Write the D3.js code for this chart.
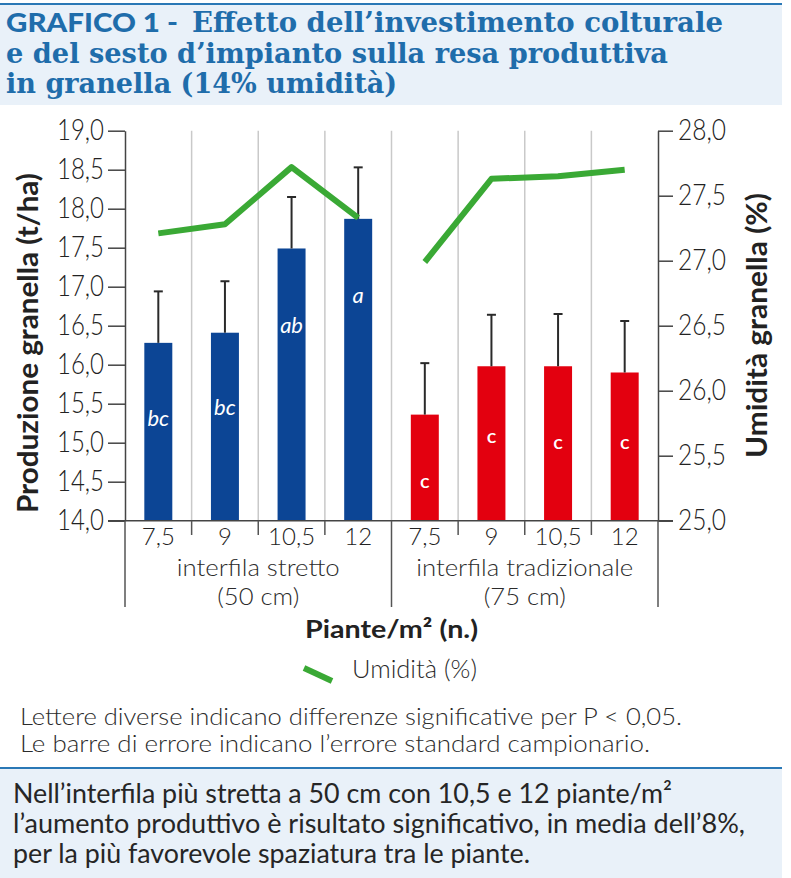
<!DOCTYPE html>
<html><head><meta charset="utf-8">
<script src="https://cdn.jsdelivr.net/npm/d3@7"></script>
<style>body{margin:0;background:#fff}svg{display:block}</style>
</head><body>
<svg id="c" width="791" height="878"></svg>
<script>
// ---------------- DATA ----------------
const categories = ["7,5", "9", "10,5", "12", "7,5", "9", "10,5", "12"];
const groupOf = [0, 0, 0, 0, 1, 1, 1, 1];
const groupLine1 = ["interfila stretto", "interfila tradizionale"];
const groupLine2 = ["(50 cm)", "(75 cm)"];
const yieldValues = [16.28, 16.41, 17.49, 17.87, 15.36, 15.98, 15.98, 15.90];
const yieldSE = [0.66, 0.66, 0.66, 0.66, 0.66, 0.66, 0.67, 0.66];
const moisture = [27.21, 27.28, 27.72, 27.33, 26.99, 27.63, 27.65, 27.70];
const letters = ["bc", "bc", "ab", "a", "c", "c", "c", "c"];
const letterAt = [15.21, 15.36, 16.41, 16.79, 14.42, 15.00, 14.92, 14.92];
const leftTicks = [14.0, 14.5, 15.0, 15.5, 16.0, 16.5, 17.0, 17.5, 18.0, 18.5, 19.0];
const rightTicks = [25.0, 25.5, 26.0, 26.5, 27.0, 27.5, 28.0];
const titleLines = ["Effetto dell\u2019investimento colturale", "e del sesto d\u2019impianto sulla resa produttiva", "in granella (14% umidit\u00e0)"];
const titleLead = "GRAFICO 1 -";
const noteLines = ["Lettere diverse indicano differenze significative per P < 0,05.", "Le barre di errore indicano l\u2019errore standard campionario."];
const boxLines = ["Nell\u2019interfila pi\u00f9 stretta a 50 cm con 10,5 e 12 piante/m\u00b2", "l\u2019aumento produttivo \u00e8 risultato significativo, in media dell\u20198%,", "per la pi\u00f9 favorevole spaziatura tra le piante."];
const xTitle = "Piante/m\u00b2 (n.)";
const yTitleLeft = "Produzione granella (t/ha)";
const yTitleRight = "Umidit\u00e0 granella (%)";
const legendLabel = "Umidit\u00e0 (%)";

// ---------------- STYLE ----------------
const groupColors = ["#0c4595", "#e3000f"];
const green = "#3aa935";
const titleBlue = "#1f6dab";
const boxFill = "#e9f1f9";
const ruleBlue = "#2a78b6";
const ink = "#2b2b2b";
const sans = "Lato, 'Open Sans', sans-serif";

const svg = d3.select("#c");

function text(g, s, x, y, o = {}) {
  const t = g.append("text").attr("x", x).attr("y", y).text(s)
    .attr("font-family", o.family || sans)
    .attr("font-size", o.size || 20)
    .attr("font-weight", o.weight || 400)
    .attr("fill", o.fill || ink)
    .attr("text-anchor", o.anchor || "start");
  if (o.style) t.attr("font-style", o.style);
  if (o.len) t.attr("textLength", o.len).attr("lengthAdjust", "spacingAndGlyphs");
  if (o.transform) t.attr("transform", o.transform);
  return t;
}

// ---------------- TITLE BOX ----------------
svg.append("rect").attr("x", 0).attr("y", 5).attr("width", 782).attr("height", 100).attr("fill", boxFill);
svg.append("line").attr("x1", 0).attr("x2", 782).attr("y1", 4).attr("y2", 4).attr("stroke", ruleBlue).attr("stroke-width", 2);
text(svg, titleLead, 6, 32, {size: 27, weight: 900, fill: titleBlue, len: 172});
const serif = "'DejaVu Serif', serif";
text(svg, titleLines[0], 192, 32, {family: serif, size: 27, weight: 700, fill: titleBlue, len: 531});
text(svg, titleLines[1], 6, 63, {family: serif, size: 27, weight: 700, fill: titleBlue, len: 662});
text(svg, titleLines[2], 6, 93, {family: serif, size: 27, weight: 700, fill: titleBlue, len: 391});

// ---------------- CHART ----------------
const plotTop = 130.7, plotBottom = 520.7, plotLeft = 125, plotRight = 658;
const x = d3.scaleBand().domain(d3.range(categories.length)).range([plotLeft, plotRight]).padding(0);
const yL = d3.scaleLinear().domain([14, 19]).range([plotBottom, plotTop]);
const yR = d3.scaleLinear().domain([25, 28]).range([plotBottom, plotTop]);
const barW = x.bandwidth() * 0.42;
const cx = i => x(i) + x.bandwidth() / 2;
const fmt = d => d3.format(".1f")(d).replace(".", ",");

// vertical grid lines at inner band boundaries
const inner = d3.range(1, categories.length);
svg.append("g").selectAll("line").data(inner).join("line")
  .attr("x1", i => x(i)).attr("x2", i => x(i))
  .attr("y1", plotTop).attr("y2", plotBottom)
  .attr("stroke", "#c9c9c9").attr("stroke-width", 1.5);

// bars
svg.append("g").selectAll("rect").data(yieldValues).join("rect")
  .attr("x", (d, i) => cx(i) - barW / 2)
  .attr("width", barW)
  .attr("y", d => yL(d))
  .attr("height", d => yL(14) - yL(d))
  .attr("fill", (d, i) => groupColors[groupOf[i]]);

// error bars (upper only)
const eg = svg.append("g").attr("stroke", "#2a2a2a").attr("stroke-width", 2);
yieldValues.forEach((v, i) => {
  eg.append("line").attr("x1", cx(i)).attr("x2", cx(i)).attr("y1", yL(v)).attr("y2", yL(v + yieldSE[i]));
  eg.append("line").attr("x1", cx(i) - 4.5).attr("x2", cx(i) + 4.5).attr("y1", yL(v + yieldSE[i])).attr("y2", yL(v + yieldSE[i]));
});

// significance letters
svg.append("g").selectAll("text").data(letters).join("text")
  .attr("x", (d, i) => cx(i)).attr("y", (d, i) => yL(letterAt[i]))
  .attr("text-anchor", "middle").attr("fill", "#fff")
  .attr("font-family", sans)
  .attr("font-size", (d, i) => groupOf[i] === 0 ? 22 : 20)
  .attr("font-style", (d, i) => groupOf[i] === 0 ? "italic" : "normal")
  .attr("font-weight", (d, i) => groupOf[i] === 0 ? 400 : 600)
  .text(d => d);

// moisture lines, one per spacing group
const line = d3.line().x(d => cx(d.i)).y(d => yR(d.v));
[0, 1].forEach(g => {
  const pts = moisture.map((v, i) => ({v, i})).filter(d => groupOf[d.i] === g);
  svg.append("path").attr("d", line(pts)).attr("fill", "none")
    .attr("stroke", green).attr("stroke-width", 6).attr("stroke-linejoin", "round");
});

// left axis
const axL = svg.append("g").attr("transform", `translate(${plotLeft},0)`)
  .call(d3.axisLeft(yL).tickValues(leftTicks).tickFormat(fmt).tickSize(17).tickPadding(4).tickSizeOuter(0));
axL.select(".domain").attr("stroke", "#444").attr("stroke-width", 1.5);
axL.selectAll(".tick line").attr("stroke", "#444").attr("stroke-width", 1.5);
axL.selectAll(".tick text").attr("font-family", sans).attr("font-size", 29).attr("font-weight", 300)
  .attr("fill", "#222").attr("textLength", 47).attr("lengthAdjust", "spacingAndGlyphs");

// right axis
const axR = svg.append("g").attr("transform", `translate(${plotRight},0)`)
  .call(d3.axisRight(yR).tickValues(rightTicks).tickFormat(fmt).tickSize(15).tickPadding(5).tickSizeOuter(0));
axR.select(".domain").attr("stroke", "#444").attr("stroke-width", 1.5);
axR.selectAll(".tick line").attr("stroke", "#444").attr("stroke-width", 1.5);
axR.selectAll(".tick text").attr("font-family", sans).attr("font-size", 29).attr("font-weight", 300)
  .attr("fill", "#222").attr("textLength", 48).attr("lengthAdjust", "spacingAndGlyphs");

// x axis baseline
svg.append("line").attr("x1", plotLeft - 17).attr("x2", plotRight + 15)
  .attr("y1", plotBottom).attr("y2", plotBottom).attr("stroke", "#444").attr("stroke-width", 1.5);

// x category labels via band axis
const axB = svg.append("g").attr("transform", `translate(0,${plotBottom})`)
  .call(d3.axisBottom(x).tickFormat(i => categories[i]).tickSize(0).tickPadding(7));
axB.select(".domain").remove();
axB.selectAll(".tick text").attr("font-family", sans).attr("font-size", 24).attr("font-weight", 300).attr("fill", "#222");

// short ticks between categories, long separators between groups
const sepIdx = [0, 4, 8];
svg.append("g").selectAll("line").data(d3.range(0, categories.length + 1)).join("line")
  .attr("x1", i => plotLeft + x.step() * i).attr("x2", i => plotLeft + x.step() * i)
  .attr("y1", plotBottom)
  .attr("y2", i => sepIdx.includes(i) ? 607 : 535)
  .attr("stroke", "#555").attr("stroke-width", 1.5);

// group labels
[0, 1].forEach(g => {
  const gx = plotLeft + x.step() * (4 * g + 2);
  text(svg, groupLine1[g], gx, 576, {size: 23, weight: 300, anchor: "middle", len: g === 0 ? 163 : 217});
  text(svg, groupLine2[g], gx, 605, {size: 23, weight: 300, anchor: "middle", len: 82});
});

// axis titles
text(svg, xTitle, 305, 638, {size: 25, weight: 700, fill: "#222", len: 173});
text(svg, yTitleLeft, 0, 0, {size: 29, weight: 700, fill: "#222", anchor: "middle", len: 340,
  transform: "translate(38,343) rotate(-90)"});
text(svg, yTitleRight, 0, 0, {size: 29, weight: 700, fill: "#222", anchor: "middle", len: 265,
  transform: "translate(767,325.5) rotate(-90)"});

// legend
svg.append("line").attr("x1", 304).attr("y1", 668).attr("x2", 332).attr("y2", 681)
  .attr("stroke", green).attr("stroke-width", 6);
text(svg, legendLabel, 352, 678, {size: 25, weight: 300, len: 125});

// notes
text(svg, noteLines[0], 20, 725, {size: 23, weight: 300, len: 662});
text(svg, noteLines[1], 20, 752, {size: 23, weight: 300, len: 630});

// bottom box
svg.append("rect").attr("x", 0).attr("y", 769).attr("width", 782).attr("height", 109).attr("fill", boxFill);
svg.append("line").attr("x1", 0).attr("x2", 782).attr("y1", 768).attr("y2", 768).attr("stroke", ruleBlue).attr("stroke-width", 2);
const boxLens = [659, 732, 517];
boxLines.forEach((s, k) => text(svg, s, 13, 803 + 30 * k, {size: 27, weight: 400, fill: "#262626", len: boxLens[k]}));
</script>
</body></html>
